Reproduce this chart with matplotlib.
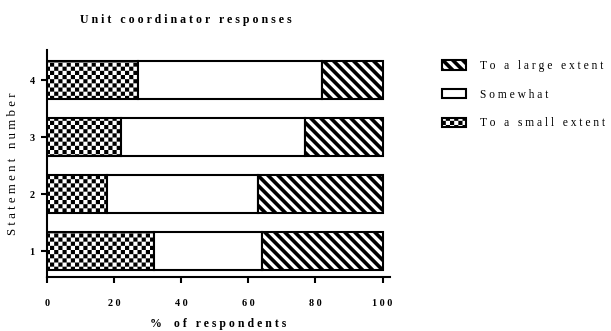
import matplotlib
matplotlib.use("Agg")
import matplotlib.pyplot as plt
import matplotlib.hatch as mhatch
from matplotlib.path import Path
import numpy as np

# ---------------- data ----------------
statements = ["1", "2", "3", "4"]
small_extent = [32, 18, 22, 27]
somewhat = [32, 45, 55, 55]
large_extent = [36, 37, 23, 18]
series_labels = ["To a small extent", "Somewhat", "To a large extent"]
x_ticks = [0, 20, 40, 60, 80, 100]
title = "Unit coordinator responses"
x_label = "% of respondents"
y_label = "Statement number"


# ---------------- custom hatches ----------------
class CheckerHatch(mhatch.HatchPatternBase):
    """Filled checkerboard, triggered by '*'."""
    def __init__(self, hatch, density):
        k = hatch.count('*')
        self.n = 2 * int(k * density)
        self.num_vertices = (self.n * self.n // 2) * 5 if k else 0

    def set_vertices_and_codes(self, vertices, codes):
        n = self.n
        c = 1.0 / n
        idx = 0
        for i in range(n):
            for j in range(n):
                if (i + j) % 2 == 0:
                    x0, y0 = j * c, i * c
                    vertices[idx:idx + 5] = [(x0, y0), (x0 + c, y0), (x0 + c, y0 + c),
                                             (x0, y0 + c), (x0, y0)]
                    codes[idx] = Path.MOVETO
                    codes[idx + 1:idx + 4] = Path.LINETO
                    codes[idx + 4] = Path.CLOSEPOLY
                    idx += 5


class StripeHatch(mhatch.HatchPatternBase):
    """Thick filled '\\' stripes."""
    def __init__(self, hatch, density):
        k = hatch.count('\\')
        self.n = 10 * k
        self.ks = list(range(-3, 2 * self.n + 4)) if k else []
        self.num_vertices = len(self.ks) * 5

    def set_vertices_and_codes(self, vertices, codes):
        n = self.n
        w = 0.52 / n
        x0, x1 = -0.3, 1.3
        idx = 0
        for k in self.ks:
            c = k / n
            vertices[idx:idx + 5] = [(x0, c - x0), (x1, c - x1), (x1, c + w - x1),
                                     (x0, c + w - x0), (x0, c - x0)]
            codes[idx] = Path.MOVETO
            codes[idx + 1:idx + 4] = Path.LINETO
            codes[idx + 4] = Path.CLOSEPOLY
            idx += 5


mhatch._hatch_types = [StripeHatch, CheckerHatch]
plt.rcParams['hatch.linewidth'] = 0.0
plt.rcParams['font.family'] = ['Liberation Serif', 'DejaVu Serif']


def spaced(s):
    return " ".join(s)


fig = plt.figure(figsize=(6.11, 3.31), dpi=100)
ax = fig.add_axes([47 / 611, 1 - 277 / 331, (390 - 47) / 611, (277 - 50) / 331])

y = np.arange(1, len(statements) + 1)
h = 0.67
lw = 1.5
b1 = ax.barh(y, small_extent, height=h, color="white", edgecolor="black",
             linewidth=lw, hatch="**", label=spaced(series_labels[0]))
left2 = np.array(small_extent)
b2 = ax.barh(y, somewhat, left=left2, height=h, color="white", edgecolor="black",
             linewidth=lw, label=spaced(series_labels[1]))
left3 = left2 + np.array(somewhat)
b3 = ax.barh(y, large_extent, left=left3, height=h, color="white", edgecolor="black",
             linewidth=lw, hatch="\\", label=spaced(series_labels[2]))

ax.set_xlim(0, 102.2)
ax.set_ylim(0.55, 4.53)
ax.set_xticks(x_ticks)
ax.set_xticklabels([spaced(str(t)) for t in x_ticks], fontweight="bold", fontsize=7.3)
ax.set_yticks(y)
ax.set_yticklabels(statements, fontweight="bold", fontsize=7.3)
for s in ["top", "right"]:
    ax.spines[s].set_visible(False)
for s in ["left", "bottom"]:
    ax.spines[s].set_linewidth(1.5)
ax.tick_params(axis="x", direction="out", length=4, width=1.5, pad=12)
ax.tick_params(axis="y", direction="out", length=4, width=1.5, pad=5)

ax.set_xlabel(spaced(x_label).replace("%  ", "%   "), fontweight="bold", fontsize=8.5, labelpad=7)
ax.set_ylabel(spaced(y_label), fontsize=9.3, labelpad=7.5)

fig.text(186 / 611, 1 - 20 / 331, spaced(title), ha="center", va="center",
         fontweight="bold", fontsize=8.6)

fig.legend(handles=[b3, b2, b1], loc="upper left",
           bbox_to_anchor=(442 / 611, 1 - 60 / 331), frameon=False,
           fontsize=8.3, handlelength=2.1, handleheight=0.85,
           handletextpad=1.2, labelspacing=1.45, borderpad=0, borderaxespad=0)

fig.savefig("out.png", dpi=100)
